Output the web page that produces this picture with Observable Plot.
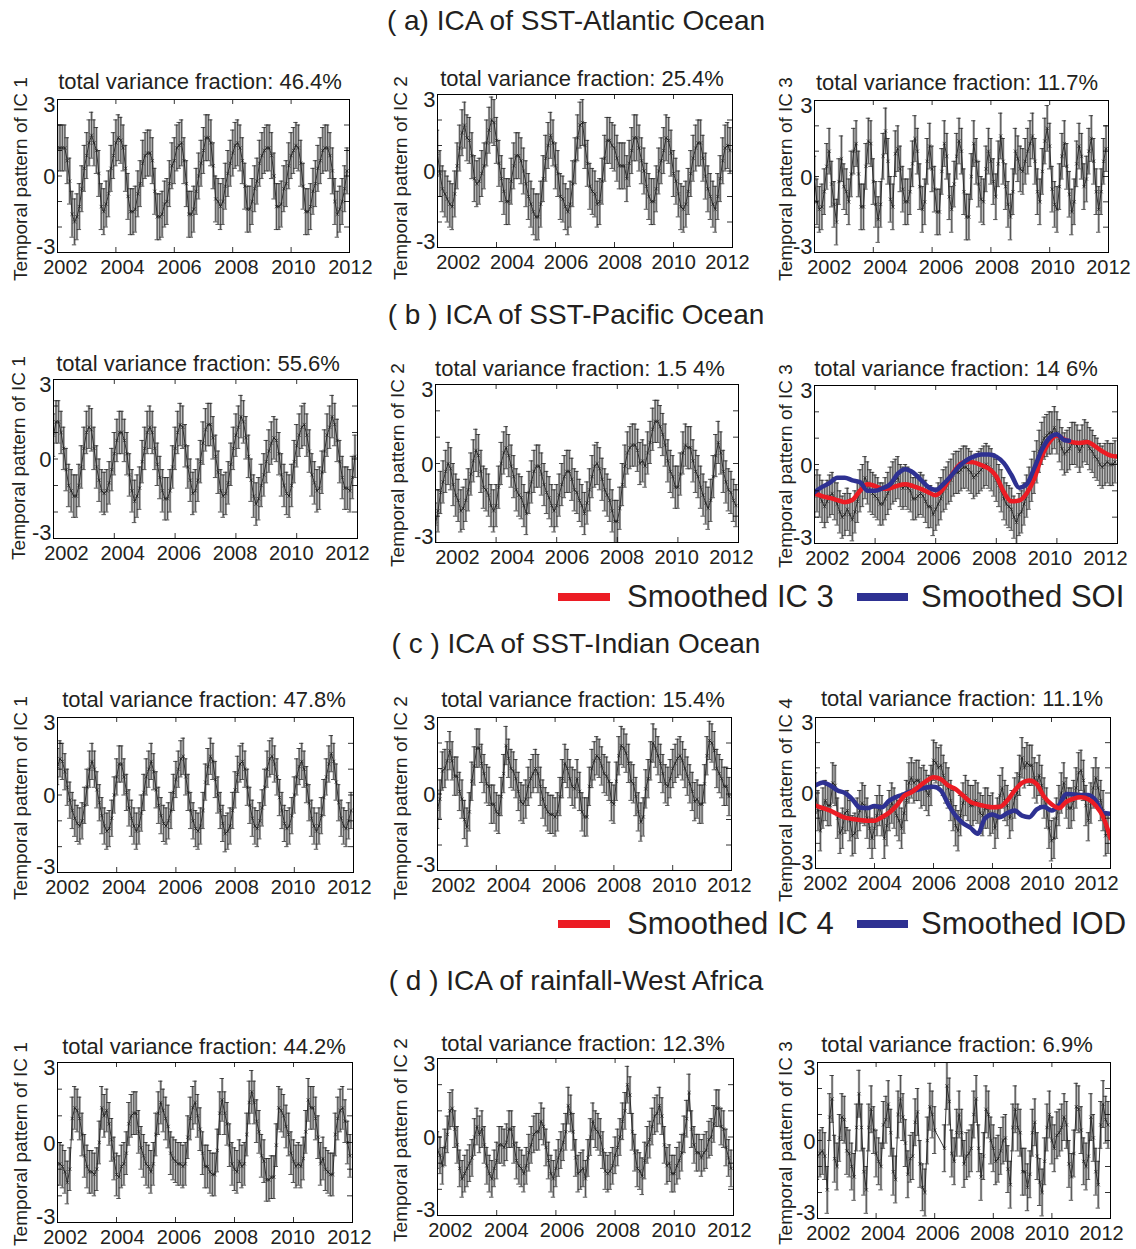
<!DOCTYPE html>
<html><head><meta charset="utf-8">
<script src="https://cdn.jsdelivr.net/npm/d3@7"></script>
<script src="https://cdn.jsdelivr.net/npm/@observablehq/plot@0.6"></script>
<style>
body{margin:0;background:#fff;}
#page{position:relative;width:1136px;height:1249px;overflow:hidden;font-family:'Liberation Sans',Arial,Helvetica,sans-serif;color:#231f20;background:#fff;}
.abs{position:absolute;white-space:nowrap;line-height:1;}
svg{position:absolute;}
</style></head><body><div id="page"></div>
<script>
// ---------------- data ----------------
const sectionTitles = ["( a) ICA of SST-Atlantic Ocean","( b ) ICA of SST-Pacific Ocean","( c ) ICA of SST-Indian Ocean","( d ) ICA of rainfall-West Africa"];
const panelTitles = ["total variance fraction: 46.4%","total variance fraction: 25.4%","total variance fraction: 11.7%",
  "total variance fraction: 55.6%","total variance fraction: 1.5 4%","total variance fraction: 14 6%",
  "total variance fraction: 47.8%","total variance fraction: 15.4%","total variance fraction: 11.1%",
  "total variance fraction: 44.2%","total variance fraction: 12.3%","total variance fraction: 6.9%"];
const yLabels = ["Temporal pattern of IC 1","Temporal pattern of IC 2","Temporal pattern of IC 3",
  "Temporal pattern of IC 1","Temporal pattern of IC 2","Temporal pattern of IC 3",
  "Temporal pattern of IC 1","Temporal pattern of IC 2","Temporal pattern of IC 4",
  "Temporal pattern of IC 1","Temporal pattern of IC 2","Temporal pattern of IC 3"];
const xTickLabels = [2002,2004,2006,2008,2010,2012];
const yTickLabels = [3,0,-3];
const legendB = ["Smoothed IC 3","Smoothed SOI"];
const legendC = ["Smoothed IC 4","Smoothed IOD"];
const startYear = 2002; // monthly series, one value per month
const errorHalf = [0.9,0.9,0.9,0.8,0.8,0.8,0.7,0.75,0.8,0.8,0.7,0.9];

const atlanticIC1 = [1.1,1.1,1.1,1.1,0.6,-0.2,-1.5,-1.8,-1.6,-1.2,-0.5,0.3,
 0.8,1.3,1.6,1.3,1.0,0.1,-1.2,-1.4,-1.1,-0.7,0.3,0.8,
 1.3,1.5,1.4,1.1,0.3,-0.8,-1.4,-1.4,-1.3,-0.7,-0.3,0.5,
 0.8,0.9,0.9,0.6,-0.6,-1.6,-1.6,-1.5,-1.1,-1.0,-0.3,0.4,
 0.6,1.1,1.2,1.3,0.6,-0.3,-1.5,-1.5,-1.3,-0.6,0.0,0.5,
 1.0,1.5,1.5,1.3,0.4,-0.9,-1.0,-1.2,-1.0,-0.4,0.1,0.5,
 0.9,1.2,1.3,1.1,0.6,-0.4,-1.3,-1.3,-1.0,-0.5,-0.2,0.5,
 0.8,1.0,1.1,1.1,0.8,0.0,-1.2,-1.2,-1.1,-0.5,-0.3,0.4,
 0.8,1.0,1.2,1.1,0.5,-0.4,-1.4,-1.4,-1.2,-0.6,-0.3,0.3,
 0.6,1.0,1.1,1.1,0.8,0.2,-1.0,-1.5,-1.3,-1.0,-0.5,0.2];
const atlanticIC2 = [0.7,-0.1,-0.7,-0.9,-1.1,-1.3,-1.4,-0.9,0.2,0.9,1.5,1.8,
 1.3,1.2,0.6,-0.3,-0.5,-0.4,-0.1,0.2,1.1,1.6,2.0,1.9,
 1.2,0.3,-0.3,-0.8,-1.2,-1.2,-0.4,0.2,0.6,0.6,0.4,0.0,
 -0.5,-1.0,-1.3,-1.6,-1.8,-1.8,-1.3,-0.3,0.5,1.0,1.4,1.1,
 0.2,-0.1,-1.0,-1.1,-1.4,-1.6,-1.3,-0.5,0.4,1.3,1.8,1.9,
 1.0,0.3,-0.6,-0.8,-0.9,-1.3,-1.2,-0.4,0.5,1.2,1.2,1.0,
 0.9,0.5,0.2,0.2,0.2,-0.3,0.3,0.8,1.3,1.3,0.9,0.4,
 0.0,-0.6,-1.0,-1.2,-1.2,-0.7,0.0,0.4,0.8,1.3,1.2,0.7,
 -0.1,-0.4,-0.9,-1.4,-1.5,-1.3,-0.8,-0.1,0.5,0.9,1.1,1.1,
 0.5,-0.2,-0.7,-1.0,-1.3,-1.5,-1.0,-0.3,0.4,0.9,1.0,0.8];
const atlanticIC3 = [-0.1,-1.0,-1.3,-1.2,-0.6,0.4,1.0,-0.3,-1.1,-1.8,-0.2,0.7,
 -0.4,-0.6,-1.0,0.1,1.0,1.3,0.1,-1.2,-1.2,0.4,1.4,1.3,
 -0.2,-1.1,-1.7,-1.1,0.8,1.8,0.6,-0.9,-1.2,0.9,1.1,0.3,
 -0.5,-1.0,-1.0,-0.6,0.5,1.5,1.0,-0.4,-1.3,-1.0,0.6,1.2,
 0.3,-0.5,-1.4,-1.4,0.2,1.3,0.8,-0.8,-1.3,-0.3,0.8,1.4,
 1.0,-0.6,-1.6,-1.6,0.0,1.3,0.6,-0.3,-0.9,-1.0,0.3,1.0,
 0.6,-0.2,-0.8,0.5,1.6,0.6,-0.4,-1.1,-1.6,-0.6,1.0,0.7,
 0.3,0.2,0.6,1.0,1.3,1.6,0.6,-0.6,-1.0,0.2,1.4,1.9,
 1.2,-0.5,-1.1,-1.3,-0.4,0.8,1.3,0.4,-0.7,-1.4,-1.0,0.5,
 1.2,0.8,-0.4,-0.1,1.0,1.5,0.6,-0.6,-1.3,-0.6,0.6,1.1];
const pacificIC1 = [0.9,1.4,1.4,1.0,0.4,-0.4,-1.0,-1.2,-1.4,-1.4,-1.0,-0.3,
 0.4,1.0,1.2,1.1,0.4,-0.3,-0.8,-1.2,-1.3,-1.2,-0.9,-0.4,
 0.2,0.7,1.0,1.0,0.7,0.2,-0.6,-1.2,-1.6,-1.4,-1.1,-0.1,
 0.4,1.0,1.2,1.0,0.4,-0.2,-0.7,-1.2,-1.5,-1.5,-1.2,-0.3,
 0.4,1.0,1.3,1.2,0.5,-0.3,-0.8,-1.3,-1.2,-0.8,-0.1,0.6,
 1.1,1.3,1.3,0.8,0.1,-0.5,-1.2,-1.4,-1.3,-0.9,-0.2,0.4,
 0.9,1.2,1.6,1.4,0.8,0.1,-0.8,-1.4,-1.7,-1.5,-1.0,-0.6,
 -0.1,0.3,0.6,0.8,0.7,0.2,-0.6,-1.0,-1.3,-1.4,-1.0,-0.1,
 0.5,0.9,1.2,1.3,0.9,0.3,-0.6,-0.9,-1.2,-1.1,-0.5,0.3,
 0.9,1.2,1.6,1.3,0.7,-0.1,-0.7,-1.1,-1.1,-1.2,-0.7,0.1];
const pacificIC2 = [-2.3,-1.8,-1.1,-0.7,-0.3,0.0,-0.2,-0.8,-1.2,-1.4,-1.8,-1.7,
 -1.4,-1.0,-0.4,0.1,0.5,0.3,-0.3,-0.9,-1.0,-1.2,-1.6,-1.8,
 -1.6,-0.9,0.0,0.4,0.6,0.3,-0.1,-0.5,-1.0,-1.2,-1.3,-1.6,
 -1.9,-1.1,-0.7,-0.3,-0.1,-0.1,-0.4,-0.8,-1.1,-1.3,-1.6,-1.8,
 -1.6,-1.2,-0.8,-0.5,-0.3,-0.3,-0.6,-1.0,-1.1,-1.4,-1.6,-1.9,
 -1.5,-1.0,-0.5,-0.1,0.0,-0.2,-0.6,-1.0,-1.2,-1.4,-1.8,-2.2,
 -2.2,-1.7,-0.8,-0.1,0.4,0.6,0.7,0.7,0.5,0.0,0.1,-0.1,
 0.4,0.8,1.3,1.6,1.6,1.4,1.1,0.7,0.1,-0.3,-0.5,-0.9,
 -0.9,-0.4,0.4,0.7,0.6,0.6,0.1,-0.3,-0.5,-0.9,-1.2,-1.5,
 -1.7,-1.4,-0.5,0.3,0.8,0.4,-0.3,-0.7,-1.0,-1.1,-1.4,-1.6];
const pacificIC3 = [-1.2,-1.0,-1.2,-1.4,-1.6,-1.4,-1.2,-1.1,-1.3,-1.5,-1.8,-2.0,
 -1.9,-1.7,-1.9,-2.1,-1.8,-1.4,-1.0,-0.8,-0.5,-0.7,-1.0,-1.1,
 -1.2,-1.3,-1.5,-1.5,-1.3,-1.1,-0.9,-0.7,-0.6,-0.5,-0.8,-0.9,
 -0.8,-0.9,-1.0,-1.3,-1.3,-1.2,-1.1,-1.2,-1.4,-1.6,-1.6,-1.9,
 -1.7,-1.5,-1.3,-1.0,-0.9,-0.7,-0.6,-0.4,-0.3,-0.3,-0.2,-0.1,
 -0.1,-0.2,-0.3,-0.5,-0.4,-0.3,-0.2,-0.1,0.0,-0.1,-0.2,-0.4,
 -0.6,-0.8,-1.0,-1.3,-1.5,-1.6,-1.7,-2.0,-2.2,-1.9,-1.8,-1.5,
 -1.2,-0.9,-0.6,-0.3,0.1,0.5,0.8,1.0,1.1,1.2,1.2,1.4,
 1.2,0.9,0.6,0.4,0.5,0.6,0.8,0.8,0.7,0.5,0.7,0.9,
 0.8,0.6,0.5,0.3,0.2,0.0,-0.1,0.0,0.1,0.0,0.0,0.1];
const indianIC1 = [1.1,1.4,1.3,0.9,0.3,-0.2,-0.6,-0.9,-1.1,-1.2,-1.0,-0.4,
 0.3,1.0,1.3,1.0,0.2,-0.3,-0.8,-1.2,-1.4,-1.3,-0.9,0.0,
 0.7,1.2,1.2,0.7,0.1,-0.5,-0.9,-1.2,-1.4,-1.2,-0.7,0.1,
 0.7,1.0,1.3,0.9,0.2,-0.4,-0.8,-1.1,-1.2,-1.0,-0.6,0.1,
 0.6,1.0,1.4,1.5,0.7,0.1,-0.6,-1.0,-1.3,-1.4,-1.2,-0.6,
 0.5,1.1,1.5,1.3,0.6,0.0,-0.6,-1.1,-1.5,-1.4,-1.2,-0.6,
 0.2,0.8,1.2,1.3,1.0,0.3,-0.4,-0.9,-1.2,-1.3,-1.0,-0.5,
 0.3,1.0,1.4,1.5,1.2,0.7,-0.1,-0.6,-1.1,-1.3,-1.2,-0.8,
 0.0,0.7,1.1,1.3,1.0,0.4,-0.3,-0.9,-1.2,-1.4,-1.2,-0.8,
 -0.1,0.7,1.2,1.6,1.3,0.5,-0.3,-0.9,-1.2,-1.3,-1.0,-0.6];
const indianIC2 = [-0.6,-0.2,0.9,1.0,1.3,1.7,1.3,0.7,0.7,0.1,-0.2,-1.0,
 -1.3,-0.7,0.5,1.1,1.8,1.8,1.2,0.8,0.4,0.3,-0.4,-0.4,
 -0.7,-0.8,-0.1,0.8,1.9,1.4,1.0,0.9,0.6,0.1,-0.3,-0.4,
 -0.2,0.3,0.6,0.8,1.0,0.8,0.3,-0.2,-0.5,-0.7,-0.8,-0.8,
 -0.9,-0.7,-0.1,0.6,1.2,1.0,0.6,0.3,0.2,0.6,0.1,-0.7,
 -0.9,-0.9,0.3,1.0,1.3,1.5,1.4,1.1,0.8,0.7,0.5,-0.3,
 -0.4,0.5,1.5,1.9,1.8,1.6,1.2,0.5,0.4,-0.1,-0.7,-1.1,
 -0.9,0.2,0.6,1.3,2.0,1.8,1.5,1.2,0.8,0.4,0.3,0.6,
 1.0,1.2,1.4,1.5,1.3,1.0,0.7,0.4,0.1,-0.3,-0.2,-0.4,
 -0.4,0.4,1.5,2.1,2.0,1.7,1.0,0.8,0.6,0.3,0.3,-0.1];
const indianIC4 = [0.0,-0.7,-1.5,-0.6,-0.3,-0.5,-0.5,0.4,0.3,-1.0,-1.6,-1.4,
 -0.8,-0.7,-1.1,-1.7,-1.6,-1.0,-0.7,-0.4,-0.5,-1.0,-1.4,-1.8,
 -1.4,-0.9,-0.5,-0.9,-1.8,-1.3,-0.7,-0.4,-0.6,-0.9,-1.1,-1.4,
 -0.8,-0.3,0.4,0.6,0.4,0.5,0.5,0.2,0.3,0.1,-0.1,0.3,
 1.3,1.2,1.0,1.1,0.7,0.4,0.2,-0.3,-0.7,-1.3,-1.5,-0.9,
 -0.4,-0.1,-0.3,-0.5,-0.5,-0.3,-0.4,-0.8,-0.9,-0.6,-0.6,-0.9,
 -0.8,-1.4,-1.0,-0.1,0.2,-0.3,-0.5,-1.0,-0.7,-0.2,0.0,0.7,
 1.4,1.0,1.2,1.1,1.1,0.6,0.4,0.7,0.3,-0.2,-0.6,-1.4,
 -1.9,-1.8,-1.0,-0.5,0.0,0.4,-0.2,-0.6,-0.6,-0.3,0.2,0.8,
 0.9,0.5,-0.5,-1.1,-0.4,0.2,0.6,0.2,-0.3,-0.7,-1.7,-1.6];
const rainIC1 = [-0.8,-0.8,-0.9,-1.1,-1.5,-1.0,0.9,1.3,1.2,0.9,0.3,-0.5,
 -0.9,-1.1,-1.1,-1.2,-1.0,0.0,1.3,1.0,1.2,0.7,0.1,-0.6,
 -1.2,-1.3,-0.9,-0.8,-0.4,0.7,1.0,1.1,1.1,0.4,-0.2,-0.5,
 -0.8,-0.9,-1.1,-0.8,0.3,1.1,1.5,1.2,0.9,0.6,-0.4,-0.6,
 -0.7,-0.8,-0.8,-0.9,-0.8,0.2,0.9,1.3,1.5,1.0,0.5,-0.4,
 -0.9,-0.9,-1.1,-1.2,-1.2,-0.3,1.1,1.6,1.1,0.7,-0.1,-0.8,
 -1.0,-1.1,-0.7,-0.9,-0.8,0.3,1.5,1.9,1.5,0.8,0.4,-0.5,
 -0.7,-1.4,-1.4,-1.3,-1.3,-0.1,1.3,1.2,1.0,0.6,0.3,-0.4,
 -0.7,-0.9,-0.8,-0.9,-0.6,0.4,1.6,1.3,1.3,0.9,0.2,-0.8,
 -0.6,-1.0,-1.1,-1.2,-1.2,0.3,0.9,1.2,1.3,0.8,0.0,-0.5];
const rainIC2 = [-0.5,-0.7,-1.1,-0.4,0.1,1.0,1.1,0.3,-0.3,-1.2,-1.6,-1.4,
 -1.2,-1.0,-0.8,0.0,0.4,0.1,0.3,-0.3,-1.1,-1.4,-1.6,-1.2,
 -0.9,-0.3,-0.3,-0.4,-0.2,0.3,0.3,-0.3,-0.9,-1.1,-1.2,-1.4,
 -1.1,-0.6,-0.3,0.1,0.2,0.2,0.6,0.4,-0.4,-0.9,-1.4,-1.6,
 -1.2,-0.8,-0.5,-0.2,0.2,1.2,0.9,0.2,-0.8,-1.4,-1.3,-1.2,
 -1.6,-0.8,0.0,0.6,0.3,0.2,0.0,-0.5,-1.3,-1.4,-1.3,-1.1,
 -0.7,-0.4,0.0,0.6,1.0,2.0,1.6,0.2,-0.6,-1.2,-1.3,-1.5,
 -0.9,-0.3,-0.1,0.4,0.8,0.9,1.2,0.8,-0.3,-1.1,-1.0,-1.4,
 -1.4,-1.1,-0.9,-0.6,0.1,0.7,1.7,0.3,-0.3,-0.6,-0.6,-0.8,
 -0.6,-0.5,-0.1,0.0,0.5,1.1,1.1,0.4,0.3,-0.4,-0.8,-1.2];
const rainIC3 = [-0.6,-0.5,-0.4,-0.6,-1.9,0.9,1.6,-0.7,-1.0,0.1,0.9,0.8,
 -0.4,-0.5,-1.0,-1.4,0.5,1.8,0.5,-1.2,-1.9,0.5,1.2,0.4,
 -0.5,-0.8,-1.0,0.6,0.8,1.4,0.3,-1.2,-1.5,1.0,1.6,0.9,
 -0.1,-1.3,-0.7,-0.6,0.7,1.1,-0.9,-1.8,-2.0,0.0,1.3,1.0,
 0.4,null,null,null,-0.3,2.1,1.5,-0.5,-0.8,0.3,1.0,0.3,
 -0.9,-0.6,-0.5,-0.3,1.0,1.6,-0.3,-1.4,-0.6,1.2,1.0,0.0,
 -0.3,-0.8,-0.7,-0.4,0.0,0.1,-1.1,-1.7,0.5,1.2,0.5,0.3,
 -1.2,-1.2,-1.8,-1.3,0.3,0.7,-0.6,-1.6,-2.0,-0.8,0.5,1.0,
 0.0,-0.3,0.2,0.3,0.5,0.9,0.6,-0.9,-1.4,-0.5,1.3,1.2,
 0.4,-0.8,-1.0,-0.6,0.9,0.1,-1.2,-1.7,0.6,1.4,0.8,0.6];

// smoothed curves, quarterly from 2002.00
const smoothedIC3 = [-1.1,-1.2,-1.27,-1.35,-1.43,-1.35,-1.0,-0.75,-0.82,-0.92,-0.9,-0.8,-0.75,-0.82,-0.92,-1.05,-1.17,-0.92,-0.45,-0.05,0.1,0.08,-0.02,-0.15,-0.45,-1.05,-1.4,-1.37,-1.1,-0.55,0.3,0.85,1.1,0.95,0.85,0.82,0.85,0.7,0.5,0.35,0.3];
const smoothedSOI = [-1.05,-0.85,-0.7,-0.5,-0.5,-0.6,-0.67,-1.0,-1.0,-0.9,-0.75,-0.35,-0.18,-0.3,-0.57,-0.85,-0.97,-0.75,-0.45,-0.1,0.15,0.3,0.38,0.38,0.3,0.05,-0.4,-0.88,-0.75,-0.15,0.55,1.0,1.15,0.92,0.9];
const smoothedSOIYears = [2002,2002.25,2002.5,2002.75,2003,2003.25,2003.5,2003.75,2004,2004.25,2004.5,2004.75,2005,2005.25,2005.5,2005.75,2006,2006.25,2006.5,2006.75,2007,2007.25,2007.5,2007.75,2008,2008.25,2008.5,2008.75,2009,2009.25,2009.5,2009.75,2010,2010.25,2010.4];
const smoothedIC4 = [-0.5,-0.6,-0.7,-0.85,-0.98,-1.03,-1.07,-1.1,-1.1,-0.96,-0.78,-0.5,-0.12,0.03,0.25,0.47,0.63,0.55,0.3,0.15,-0.1,-0.35,-0.45,-0.52,-0.57,-0.55,-0.3,0.1,0.4,0.5,0.35,-0.15,-0.45,-0.6,-0.35,-0.22,-0.17,-0.25,-0.5,-0.95,-1.8];
const smoothedIOD = [0.3,0.42,0.3,0.1,0.0,-0.25,-0.58,-0.6,-0.52,-0.57,-0.3,-0.15,-0.05,0.07,0.14,0.22,0.25,0.1,-0.45,-0.9,-1.2,-1.38,-1.62,-1.0,-0.85,-0.96,-0.8,-0.7,-0.9,-0.96,-0.65,-0.55,-0.7,-0.5,-0.04,-0.06,-0.08,-0.08,-0.3,-0.78,-0.83];

// ---------------- layout ----------------
const RED = "#ec1c24", BLUE = "#2e3192", INK = "#231f20";
const series = [atlanticIC1,atlanticIC2,atlanticIC3,pacificIC1,pacificIC2,pacificIC3,indianIC1,indianIC2,indianIC4,rainIC1,rainIC2,rainIC3];
const frames = [[57,99,349,252],[437,94,732,247],[814,100,1108,252],
  [53,379,357,538],[435,384,738,542],[814,385,1117,543],
  [57,717,353,872],[437,717,731,870],[815,717,1110,868],
  [57,1062,352,1222],[437,1058,733,1215],[817,1062,1110,1218]];
const titlePos = [[200,90],[582,87],[957,91],[198,372],[580,377],[956,377],[204,708],[583,708],[962,707],[204,1055],[583,1052],[957,1053]];
const ylabPos = [[20,179],[400,178],[785,179],[18,458],[397,465],[785,466],[20,798],[400,798],[785,800],[20,1144],[400,1140],[785,1143]];
const sectionPos = [[576,31],[576,325],[576,654],[576,991]];
// pixel nudge of the first (2002) and last (2012) year label; the others are spaced evenly between
const xLabelEnds = [[8,1],[21,-5],[15,0],[13,-10],[22,-7],[13,-12],[10,-4],[16,-2],[10,-14],[8,-3],[13,-4],[11,-9]];
const yLabelShift = [5, 1, -6];

const page = document.getElementById("page");
function addText(txt, x, baseline, fs, align) {
  const d = document.createElement("div");
  d.className = "abs";
  d.textContent = txt;
  d.style.fontSize = fs + "px";
  d.style.top = (baseline - 0.85 * fs) + "px";
  d.style.left = x + "px";
  if (align === "center") d.style.transform = "translateX(-50%)";
  page.appendChild(d);
}
function addYLabel(txt, cx, cy) {
  const d = document.createElement("div");
  d.className = "abs";
  d.textContent = txt;
  d.style.fontSize = "19px";
  d.style.left = cx + "px"; d.style.top = cy + "px";
  d.style.transform = "translate(-50%,-50%) rotate(-90deg)";
  page.appendChild(d);
}
function addBar(x, w, cy, color) {
  const d = document.createElement("div");
  d.className = "abs";
  d.style.left = x + "px"; d.style.width = w + "px";
  d.style.top = (cy - 4) + "px"; d.style.height = "8px";
  d.style.background = color;
  page.appendChild(d);
}

sectionTitles.forEach((s, i) => addText(s, sectionPos[i][0], sectionPos[i][1], 28, "center"));

const quarterYears = d3.range(41).map(i => 2002 + i / 4);
const CAP = 0.075;

function drawPanel(k) {
  const [l, t, r, b] = frames[k];
  const fw = r - l, fh = b - t;
  const ml = 46, mr = 26, mt = 6, mb = 32;
  const e = errorHalf[k];
  const pts = series[k].map((v, i) => ({t: startYear + i / 12, v})).filter(d => d.v != null);
  const marks = [
    Plot.ruleX(pts, {x: "t", y1: d => d.v - e, y2: d => d.v + e, stroke: "#a6a6a6", strokeWidth: 2.4, clip: true}),
    Plot.ruleX(pts, {x: "t", y1: d => d.v - e, y2: d => d.v + e, stroke: "#111", strokeWidth: 0.55, clip: true}),
    Plot.ruleY(pts, {y: d => d.v + e, x1: d => d.t - CAP, x2: d => d.t + CAP, stroke: "#2a2a2a", strokeWidth: 0.8, clip: true}),
    Plot.ruleY(pts, {y: d => d.v - e, x1: d => d.t - CAP, x2: d => d.t + CAP, stroke: "#2a2a2a", strokeWidth: 0.8, clip: true}),
    Plot.line(pts, {x: "t", y: "v", stroke: "#222", strokeWidth: 0.9, clip: true}),
    Plot.dot(pts, {x: "t", y: "v", symbol: "times", r: 1.7, stroke: "#111", strokeWidth: 0.6, clip: true})
  ];
  if (k === 5) {
    marks.push(Plot.line(smoothedIC3.map((v, i) => ({t: quarterYears[i], v})), {x: "t", y: "v", stroke: RED, strokeWidth: 4.5, curve: "monotone-x", clip: true}));
    marks.push(Plot.line(smoothedSOI.map((v, i) => ({t: smoothedSOIYears[i], v})), {x: "t", y: "v", stroke: BLUE, strokeWidth: 4.5, curve: "monotone-x", clip: true}));
  }
  if (k === 8) {
    marks.push(Plot.line(smoothedIOD.map((v, i) => ({t: quarterYears[i], v})), {x: "t", y: "v", stroke: BLUE, strokeWidth: 4.5, curve: "monotone-x", clip: true}));
    marks.push(Plot.line(smoothedIC4.map((v, i) => ({t: quarterYears[i], v})), {x: "t", y: "v", stroke: RED, strokeWidth: 4.5, curve: "monotone-x", clip: true}));
  }
  const yMinor = [-2, -1, 0, 1, 2], xMinor = [2004, 2006, 2008, 2010];
  marks.push(
    Plot.tickY(yMinor, {y: d => d, insetRight: fw - 5, stroke: "#000", strokeWidth: 0.8}),
    Plot.tickY(yMinor, {y: d => d, insetLeft: fw - 5, stroke: "#000", strokeWidth: 0.8}),
    Plot.tickX(xMinor, {x: d => d, insetTop: fh - 5, stroke: "#000", strokeWidth: 0.8}),
    Plot.tickX(xMinor, {x: d => d, insetBottom: fh - 5, stroke: "#000", strokeWidth: 0.8}),
    Plot.frame({stroke: "#000", strokeWidth: 1})
  );
  const [s0, s5] = xLabelEnds[k];
  xTickLabels.forEach((yr, j) => {
    const dx = s0 + (s5 - s0) * j / 5;
    marks.push(Plot.text([yr], {x: d => d, text: d => String(d), frameAnchor: "bottom", lineAnchor: "top", dy: 7, dx, fontSize: 20, fill: INK}));
  });
  yTickLabels.forEach((v, j) => marks.push(
    Plot.text([v], {y: d => d, text: d => d < 0 ? "-" + (-d) : String(d), frameAnchor: "left", textAnchor: "end", dx: -2, dy: yLabelShift[j], fontSize: 22, fill: INK})
  ));
  const svg = Plot.plot({
    width: fw + ml + mr, height: fh + mt + mb,
    marginLeft: ml, marginRight: mr, marginTop: mt, marginBottom: mb,
    x: {domain: [2002, 2012], axis: null}, y: {domain: [-3, 3], axis: null},
    style: {fontFamily: "'Liberation Sans', Arial, sans-serif", background: "none", overflow: "visible", color: INK},
    marks
  });
  svg.style.left = (l - ml) + "px";
  svg.style.top = (t - mt) + "px";
  page.appendChild(svg);
  addText(panelTitles[k], titlePos[k][0], titlePos[k][1], 22, "center");
  addYLabel(yLabels[k], ylabPos[k][0], ylabPos[k][1]);
}
for (let k = 0; k < 12; k++) drawPanel(k);

// legends
addBar(558, 52, 597, RED); addText(legendB[0], 627, 607, 31);
addBar(857, 51, 597, BLUE); addText(legendB[1], 921, 607, 31);
addBar(558, 52, 924, RED); addText(legendC[0], 627, 934, 31);
addBar(857, 51, 924, BLUE); addText(legendC[1], 921, 934, 31);
</script></body></html>
